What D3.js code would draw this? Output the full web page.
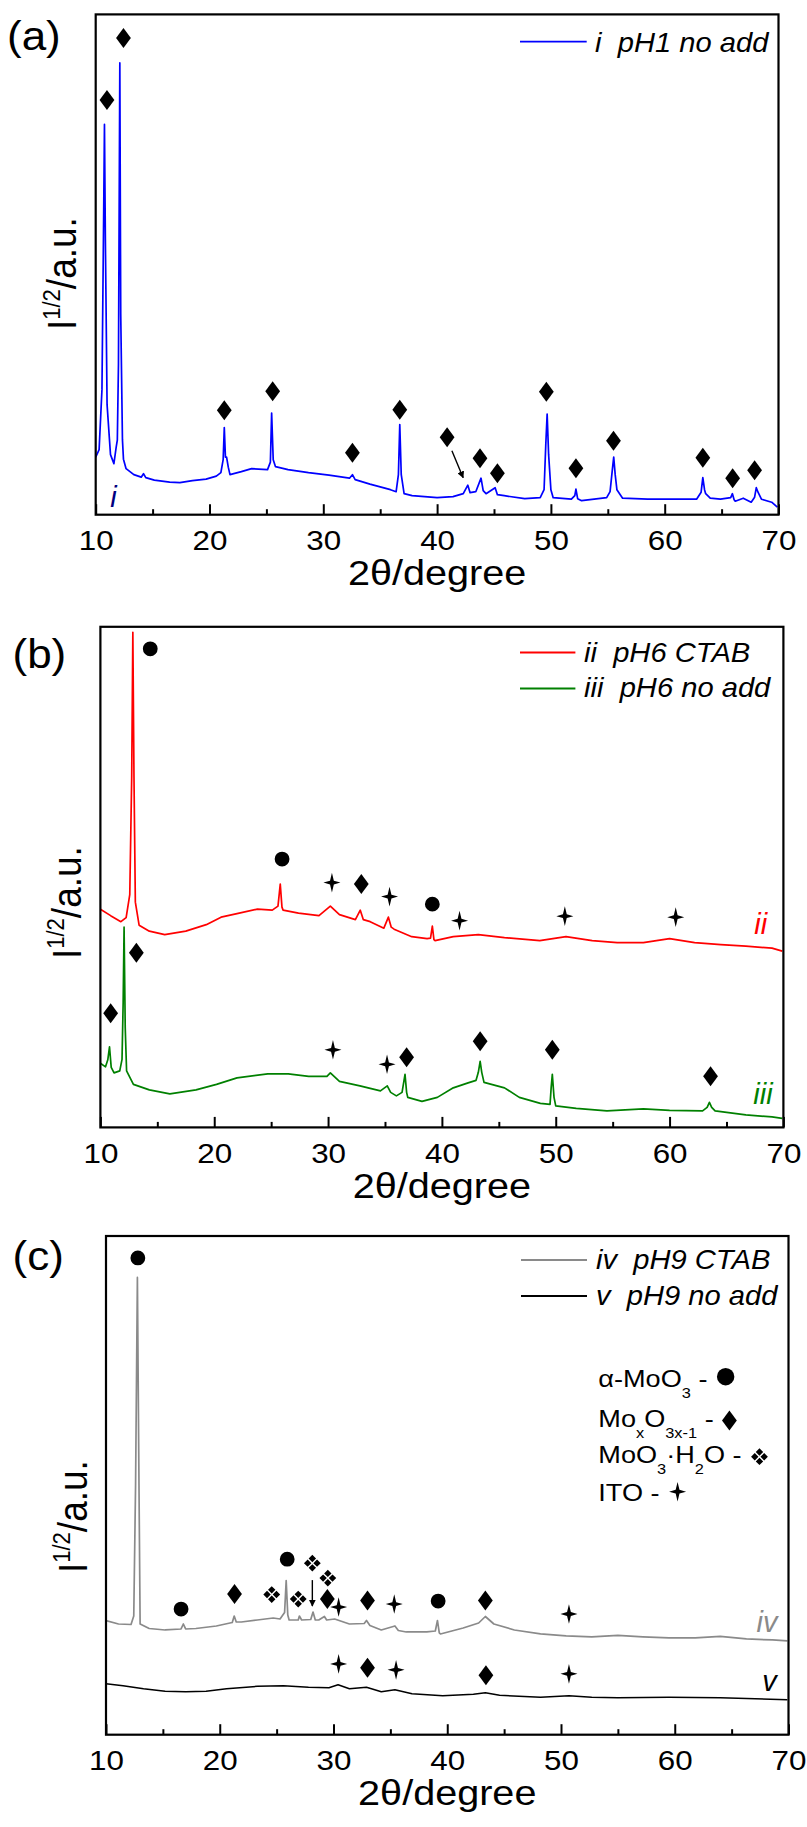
<!DOCTYPE html>
<html>
<head>
<meta charset="utf-8">
<script src="https://cdn.jsdelivr.net/npm/d3@7"></script>
<style>
  body { margin: 0; background: #fff; }
  svg text { font-family: "Liberation Sans", Arial, Helvetica, sans-serif; }
</style>
</head>
<body>
<svg id="fig" width="807" height="1827"></svg>
<script>
// ---------- data: 2θ (degree) vs. I^1/2 (arbitrary units, 0–100 of the plot height) ----------
const xTicks = [10, 20, 30, 40, 50, 60, 70];
const xMinorTicks = [15, 25, 35, 45, 55, 65];

// (a) i – pH1, no additive
const pH1NoAdd = [
  [10.0, 11.5], [10.3, 13.0], [10.55, 25], [10.7, 60], [10.77, 78.0], [10.85, 55], [11.0, 22],
  [11.3, 12.0], [11.6, 10.2], [11.8, 13.5], [11.9, 14.9], [12.0, 30], [12.12, 90.3], [12.2, 40],
  [12.35, 15], [12.44, 11.1], [12.67, 9.2], [13.35, 8.0], [14.0, 7.5], [14.2, 8.2], [14.4, 7.4],
  [15.15, 6.9], [16.5, 6.5], [17.4, 6.4], [18.5, 6.8], [19.7, 7.1], [20.6, 7.7], [21.0, 8.4],
  [21.2, 11], [21.3, 17.4], [21.4, 11.5], [21.5, 11.5], [21.65, 9.5], [21.8, 8.0], [22.8, 8.6],
  [23.7, 9.2], [25.1, 9.0], [25.35, 10.5], [25.46, 20.3], [25.6, 11], [25.8, 9.6], [26.9, 9.0],
  [28.7, 8.4], [30.5, 7.9], [32.3, 7.3], [32.56, 8.0], [32.8, 7.0], [34.1, 6.1], [35.9, 5.0],
  [36.4, 4.6], [36.6, 8], [36.72, 18.0], [36.85, 8], [37.1, 4.2], [37.8, 3.8], [40.0, 3.4],
  [41.4, 3.6], [42.3, 4.2], [42.7, 5.9], [42.9, 4.4], [43.4, 4.6], [43.86, 7.3], [44.05, 4.8],
  [44.3, 4.2], [45.1, 5.4], [45.3, 4.0], [45.9, 3.8], [47.7, 3.2], [49.06, 3.4], [49.4, 5],
  [49.55, 14], [49.67, 20.1], [49.8, 12], [50.0, 5], [50.2, 3.4], [51.8, 3.1], [52.1, 3.8],
  [52.2, 5.1], [52.35, 3.2], [52.7, 2.8], [54.9, 3.4], [55.2, 4.6], [55.4, 9], [55.52, 11.5],
  [55.65, 8], [55.8, 5.0], [56.3, 3.3], [58.5, 3.1], [60.4, 3.1], [62.8, 3.1], [63.2, 4.5],
  [63.35, 7.4], [63.5, 5], [63.6, 4.2], [64.0, 3.3], [64.9, 3.1], [65.8, 3.4], [65.95, 4.2],
  [66.1, 3.0], [66.2, 2.7], [66.9, 3.3], [67.6, 2.5], [67.9, 3.5], [68.05, 5.4], [68.2, 4.5],
  [68.5, 3.1], [69.4, 2.5], [69.9, 1.5]
];

// (b) ii – pH6 with CTAB
const pH6CTAB = [
  [10.0, 43.6], [10.9, 42.3], [11.8, 41.1], [12.26, 41.9], [12.58, 46.5], [12.75, 70], [12.85, 98.9],
  [12.95, 70], [13.07, 45], [13.4, 40.4], [14.3, 39.2], [15.65, 38.5], [17.5, 39.2], [19.3, 40.5],
  [20.6, 42.0], [22.0, 42.7], [23.8, 43.6], [25.1, 43.4], [25.6, 44.2], [25.8, 48.6], [25.95, 44],
  [26.05, 43.4], [27.4, 42.8], [29.2, 42.3], [30.2, 44.2], [31.0, 42.5], [32.4, 41.5], [32.83, 43.4],
  [33.1, 41.5], [33.7, 41.1], [34.9, 39.8], [35.3, 42.0], [35.55, 40], [35.8, 39.6], [37.35, 38.1],
  [38.7, 37.7], [39.0, 37.8], [39.16, 40.2], [39.3, 37.5], [39.4, 37.3], [41.0, 38.1], [43.2, 38.5],
  [45.5, 37.9], [48.6, 37.3], [50.9, 38.1], [53.2, 37.3], [55.4, 36.9], [57.7, 36.9], [60.0, 37.7],
  [62.2, 36.9], [64.5, 36.5], [66.7, 36.2], [69.0, 35.8], [69.9, 35.2]
];

// (b) iii – pH6, no additive
const pH6NoAdd = [
  [10.0, 12.8], [10.45, 12.1], [10.65, 13.5], [10.8, 16.1], [10.95, 12], [11.2, 10.9], [11.7, 11.3],
  [11.9, 13.6], [12.0, 25], [12.08, 40.0], [12.18, 20], [12.3, 11.3], [12.9, 8.6], [14.3, 7.5],
  [16.1, 6.7], [18.4, 7.5], [20.2, 8.6], [22.0, 9.9], [24.7, 10.7], [26.5, 10.7], [28.3, 10.2],
  [29.9, 10.2], [30.2, 10.9], [31.0, 9.2], [32.8, 8.3], [34.6, 7.3], [35.2, 8.3], [35.5, 7.0],
  [36.0, 6.3], [36.5, 7], [36.76, 10.6], [36.9, 7], [37.0, 6.0], [38.25, 5.2], [39.6, 6.0],
  [41.0, 7.9], [42.3, 8.9], [43.0, 9.4], [43.2, 11], [43.36, 13.2], [43.5, 11], [43.7, 9.0],
  [45.5, 7.9], [46.8, 6.0], [48.65, 4.8], [49.5, 4.6], [49.6, 8], [49.7, 10.6], [49.85, 6],
  [50.0, 4.3], [51.8, 3.8], [54.5, 3.3], [57.7, 3.7], [60.0, 3.4], [62.9, 3.3], [63.3, 4.0],
  [63.5, 5.0], [63.7, 4.0], [64.0, 3.3], [66.7, 2.5], [69.0, 2.1], [69.9, 1.8]
];

// (c) iv – pH9 with CTAB
const pH9CTAB = [
  [10.0, 22.9], [11.1, 22.2], [12.2, 22.1], [12.44, 23.8], [12.6, 50], [12.76, 91.7], [12.9, 50],
  [13.0, 22.2], [13.8, 21.3], [15.2, 21.0], [16.6, 21.2], [16.8, 22.2], [17.0, 21.2], [17.9, 21.3],
  [19.7, 21.8], [21.1, 22.5], [21.27, 23.8], [21.45, 22.6], [21.9, 22.6], [23.3, 23.0], [24.7, 23.4],
  [25.3, 23.2], [25.7, 24.5], [25.84, 30.9], [25.98, 24], [26.1, 23.0], [26.9, 23.0], [27.0, 23.8],
  [27.2, 23.0], [28.0, 23.1], [28.2, 24.6], [28.4, 23.0], [28.7, 23.0], [29.2, 23.7], [29.4, 23.0],
  [30.1, 23.2], [31.4, 22.2], [32.7, 22.3], [32.9, 22.9], [33.2, 21.9], [34.2, 21.0], [35.4, 21.8],
  [35.7, 20.9], [36.4, 20.6], [38.2, 20.6], [38.95, 20.8], [39.14, 22.9], [39.3, 20.4], [39.4, 20.2],
  [41.4, 21.4], [42.76, 22.4], [43.35, 23.7], [44.1, 22.2], [45.9, 21.0], [48.2, 20.2], [50.45, 19.8],
  [52.7, 19.6], [55.0, 19.9], [57.2, 19.6], [59.5, 19.4], [61.8, 19.4], [64.0, 19.7], [66.3, 19.2],
  [68.6, 19.0], [69.9, 18.8]
];

// (c) v – pH9, no additive
const pH9NoAdd = [
  [10.0, 10.2], [11.5, 9.8], [13.3, 9.2], [15.2, 8.7], [17.0, 8.6], [18.8, 8.7], [20.6, 9.2],
  [23.3, 9.7], [25.6, 9.8], [27.8, 9.5], [29.6, 9.4], [30.4, 10.0], [31.4, 9.2], [32.9, 9.5],
  [34.2, 8.6], [35.4, 9.0], [36.9, 8.2], [39.6, 7.8], [42.3, 8.1], [43.35, 8.4], [44.6, 7.9],
  [48.2, 7.5], [50.7, 7.8], [52.7, 7.5], [55.0, 7.4], [59.5, 7.5], [64.0, 7.4], [69.9, 7.0]
];

// phase markers: [phase, 2θ, level]
const markersA = [
  ["diamond", 10.99, 82.9], ["diamond", 12.44, 95.3], ["diamond", 21.3, 20.9], ["diamond", 25.55, 24.7],
  ["diamond", 32.56, 12.4], ["diamond", 36.72, 21.0], ["diamond", 40.88, 15.5], ["diamond", 43.77, 11.3],
  ["diamond", 45.3, 8.3], ["diamond", 49.6, 24.6], ["diamond", 52.2, 9.3], ["diamond", 55.5, 14.8],
  ["diamond", 63.35, 11.4], ["diamond", 65.97, 7.3], ["diamond", 67.9, 8.9]
];
const markersB = [
  ["circle", 14.38, 95.6], ["circle", 25.96, 53.6], ["ito", 30.34, 48.9], ["diamond", 32.92, 48.6],
  ["ito", 35.4, 46.1], ["circle", 39.16, 44.6], ["ito", 41.55, 41.3], ["ito", 50.8, 42.2],
  ["ito", 60.54, 42.0],
  ["diamond", 13.16, 34.9], ["diamond", 10.9, 22.8], ["ito", 30.43, 15.5], ["ito", 35.18, 12.6],
  ["diamond", 36.9, 14.0], ["diamond", 43.36, 17.2], ["diamond", 49.7, 15.5], ["diamond", 63.6, 10.2]
];
const markersC = [
  ["circle", 12.8, 95.6], ["circle", 16.6, 25.2], ["diamond", 21.3, 28.2], ["hydrate", 24.57, 28.1],
  ["circle", 25.93, 35.2], ["hydrate", 26.9, 27.2], ["hydrate", 28.14, 34.4], ["hydrate", 29.5, 31.4],
  ["diamond", 29.46, 27.2], ["ito", 30.45, 25.6], ["diamond", 32.99, 26.9], ["ito", 35.34, 26.2],
  ["circle", 39.2, 26.8], ["diamond", 43.35, 26.9], ["ito", 50.7, 24.2],
  ["ito", 30.45, 14.2], ["diamond", 32.99, 13.4], ["ito", 35.5, 13.0], ["diamond", 43.4, 11.9],
  ["ito", 50.7, 12.2]
];

// indicator arrows: [[2θ, level] start, [2θ, level] end]
const arrowA = [[41.3, 12.8], [42.29, 7.4]];
const arrowC = [[28.14, 31.0], [28.14, 25.8]];

// series names
const seriesNumerals = ["i", "ii", "iii", "iv", "v"];
const seriesNames = ["pH1 no add", "pH6 CTAB", "pH6 no add", "pH9 CTAB", "pH9 no add"];
const seriesColors = ["#0000ff", "#ff0000", "#008000", "#8a8a8a", "#000000"];

// phase key: pieces of [text, isSubscript]
const phaseKeyLabels = [
  [["α-MoO", false], ["3", true], [" - ", false]],
  [["Mo", false], ["x", true], ["O", false], ["3x-1", true], [" - ", false]],
  [["MoO", false], ["3", true], ["·H", false], ["2", true], ["O - ", false]],
  [["ITO - ", false]]
];
const phaseKeySymbols = ["circle", "diamond", "hydrate", "ito"];

// ---------- drawing ----------
const svg = d3.select("#fig");
const SX = 1.1;   // horizontal text stretch used throughout the figure

// marker shapes (k scales the shape)
function markerPath(type, k = 1) {
  if (type === "diamond") return `M0,${-10 * k}L${7.4 * k},0L0,${10 * k}L${-7.4 * k},0Z`;
  if (type === "circle") return d3.symbol(d3.symbolCircle, Math.PI * 7.4 * 7.4 * k * k)();
  if (type === "ito") {
    const w = 8.5 * k, h = 9.8 * k, c = 1.9 * k;
    return `M0,${-h}L${c},${-c}L${w},0L${c},${c}L0,${h}L${-c},${c}L${-w},0L${-c},${-c}Z`;
  }
  if (type === "hydrate") {
    const s = 3.7 * k, o = 4.7 * k;
    const dm = (cx, cy) => `M${cx},${cy - s}L${cx + s},${cy}L${cx},${cy + s}L${cx - s},${cy}Z`;
    return dm(0, -o) + dm(o, 0) + dm(0, o) + dm(-o, 0);
  }
  return "";
}
const markerHalfWidth = { circle: 8.7, diamond: 6.2, hydrate: 8.4, ito: 8.5 };

const panels = [
  {
    tag: "(a)", frame: { left: 95.7, right: 778.5, top: 14.4, bottom: 514.7 },
    tagPos: [7, 50],
    series: [0], data: [pH1NoAdd], markers: markersA, arrow: arrowA,
    legend: { x1: 520, x2: 586.7, tx: 595, rows: [[41.7, 51.7]] },
    seriesLabels: [[113.5, 506.7, "#000080"]],
    yLabelStart: [76, 330]
  },
  {
    tag: "(b)", frame: { left: 100.4, right: 783.4, top: 626.8, bottom: 1127.4 },
    tagPos: [12.5, 668],
    series: [1, 2], data: [pH6CTAB, pH6NoAdd], markers: markersB, arrow: null,
    legend: { x1: 520, x2: 575.4, tx: 584, rows: [[652.5, 661.5], [688.5, 697]] },
    seriesLabels: [[760.7, 933.7, "#ff0000"], [763, 1104, "#008000"]],
    yLabelStart: [80.5, 959]
  },
  {
    tag: "(c)", frame: { left: 106, right: 788.5, top: 1236, bottom: 1734.7 },
    tagPos: [12.5, 1270],
    series: [3, 4], data: [pH9CTAB, pH9NoAdd], markers: markersC, arrow: arrowC,
    legend: { x1: 521, x2: 587, tx: 596, rows: [[1260, 1269], [1296, 1305]] },
    seriesLabels: [[767, 1632, "#8a8a8a"], [769.5, 1691, "#000000"]],
    yLabelStart: [86.5, 1573],
    phaseKey: { x: 598.3, baselines: [1387.3, 1426.7, 1463.3, 1500.7], symbolY: [1376.7, 1420.5, 1456.7, 1491.7] }
  }
];

const defs = svg.append("defs");
defs.append("marker")
  .attr("id", "arrowHead").attr("viewBox", "0 0 10 10")
  .attr("refX", 9).attr("refY", 5)
  .attr("markerWidth", 7).attr("markerHeight", 7)
  .attr("markerUnits", "userSpaceOnUse")
  .attr("orient", "auto")
  .append("path").attr("d", "M0,0L10,5L0,10Z").attr("fill", "#000");

panels.forEach((p, pi) => {
  const f = p.frame;
  const x = d3.scaleLinear().domain([10, 70]).range([f.left, f.right]);
  const y = d3.scaleLinear().domain([0, 100]).range([f.bottom, f.top]);
  const g = svg.append("g");

  const clipId = "clip" + pi;
  defs.append("clipPath").attr("id", clipId)
    .append("rect").attr("x", f.left).attr("y", f.top)
    .attr("width", f.right - f.left).attr("height", f.bottom - f.top);

  // diffraction patterns
  const line = d3.line().x(d => x(d[0])).y(d => y(d[1]));
  p.data.forEach((d, k) => {
    const si = p.series[k];
    g.append("path").datum(d)
      .attr("clip-path", `url(#${clipId})`)
      .attr("d", line)
      .attr("fill", "none")
      .attr("stroke", seriesColors[si])
      .attr("stroke-width", si === 4 ? 1.5 : 1.7)
      .attr("stroke-linejoin", "round");
  });

  // phase markers
  g.selectAll(".mk").data(p.markers).enter().append("path")
    .attr("d", d => markerPath(d[0]))
    .attr("transform", d => `translate(${x(d[1])},${y(d[2])})`)
    .attr("fill", "#000");

  // indicator arrow
  if (p.arrow) {
    g.append("line")
      .attr("x1", x(p.arrow[0][0])).attr("y1", y(p.arrow[0][1]))
      .attr("x2", x(p.arrow[1][0])).attr("y2", y(p.arrow[1][1]))
      .attr("stroke", "#000").attr("stroke-width", 1.4)
      .attr("marker-end", "url(#arrowHead)");
  }

  // frame
  g.append("rect")
    .attr("x", f.left).attr("y", f.top)
    .attr("width", f.right - f.left).attr("height", f.bottom - f.top)
    .attr("fill", "none").attr("stroke", "#000").attr("stroke-width", 2.2);

  // bottom axis, ticks pointing inward
  const axMajor = g.append("g").attr("transform", `translate(0,${f.bottom})`)
    .call(d3.axisBottom(x).tickValues(xTicks).tickSize(-10.5).tickPadding(15).tickFormat(d3.format("d")));
  const axMinor = g.append("g").attr("transform", `translate(0,${f.bottom})`)
    .call(d3.axisBottom(x).tickValues(xMinorTicks).tickSize(-5.5).tickFormat(""));
  [axMajor, axMinor].forEach(a => {
    a.select(".domain").remove();
    a.selectAll("line").attr("stroke", "#000").attr("stroke-width", 2);
  });
  axMajor.selectAll("text")
    .attr("font-size", 28.5).attr("fill", "#000")
    .attr("transform", `scale(${SX},1)`)
    .style("font-family", '"Liberation Sans", Arial, sans-serif');

  // axis titles
  g.append("text")
    .attr("transform", `translate(${(f.left + f.right) / 2},${f.bottom + 70.5}) scale(${SX},1)`)
    .attr("text-anchor", "middle").attr("font-size", 36)
    .text("2θ/degree");

  const yl = g.append("text")
    .attr("transform", `translate(${p.yLabelStart[0]},${p.yLabelStart[1]}) rotate(-90) scale(1,${SX})`)
    .attr("font-size", 37);
  yl.append("tspan").text("I");
  yl.append("tspan").attr("font-size", 22).attr("dy", -15).text("1/2");
  yl.append("tspan").attr("dy", 15).text("/a.u.");

  // panel tag
  g.append("text")
    .attr("transform", `translate(${p.tagPos[0]},${p.tagPos[1]}) scale(${SX},1)`)
    .attr("font-size", 40).text(p.tag);

  // series legend
  p.series.forEach((si, k) => {
    const row = p.legend.rows[k];
    g.append("line")
      .attr("x1", p.legend.x1).attr("x2", p.legend.x2)
      .attr("y1", row[0]).attr("y2", row[0])
      .attr("stroke", seriesColors[si]).attr("stroke-width", 1.8);
    const t = g.append("text")
      .attr("transform", `translate(${p.legend.tx},${row[1]}) scale(1.06,1)`)
      .attr("font-size", 27.5).attr("font-style", "italic")
      .style("white-space", "pre");
    t.append("tspan").text(seriesNumerals[si]);
    t.append("tspan").text("  " + seriesNames[si]);
  });

  // roman numeral next to each pattern
  p.series.forEach((si, k) => {
    const s = p.seriesLabels[k];
    g.append("text").attr("x", s[0]).attr("y", s[1])
      .attr("text-anchor", "middle")
      .attr("font-size", 29).attr("font-style", "italic")
      .attr("fill", s[2])
      .text(seriesNumerals[si]);
  });

  // phase key
  if (p.phaseKey) {
    const pk = p.phaseKey;
    const sx = 1.13;
    phaseKeyLabels.forEach((parts, r) => {
      const t = g.append("text")
        .attr("transform", `translate(${pk.x},${pk.baselines[r]}) scale(${sx},1)`)
        .attr("font-size", 24)
        .style("white-space", "pre");
      let shifted = false;
      parts.forEach(([txt, sub]) => {
        const ts = t.append("tspan").text(txt);
        if (sub) {
          ts.attr("font-size", 14.5);
          if (!shifted) { ts.attr("dy", 11); shifted = true; }
        } else if (shifted) {
          ts.attr("dy", -11); shifted = false;
        }
      });
      const type = phaseKeySymbols[r];
      const textEnd = pk.x + t.node().getComputedTextLength() * sx;
      g.append("path")
        .attr("d", markerPath(type, type === "circle" ? 8.7 / 7.4 : 1))
        .attr("transform", `translate(${textEnd + 2 + markerHalfWidth[type]},${pk.symbolY[r]})`)
        .attr("fill", "#000");
    });
  }
});
</script>
</body>
</html>
